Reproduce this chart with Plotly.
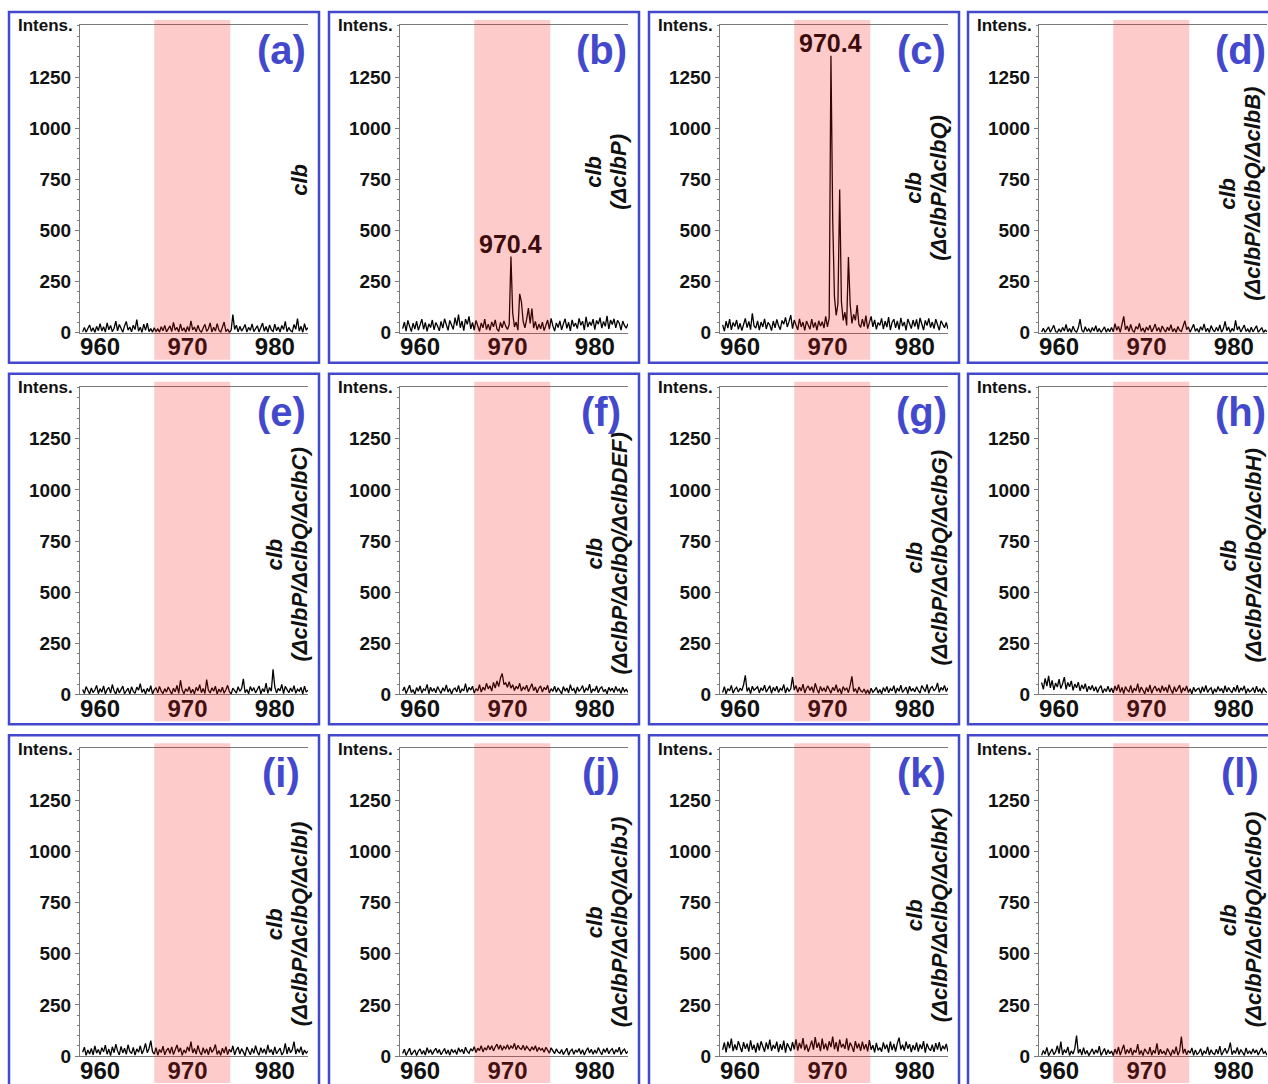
import plotly.graph_objects as go

# m/z sampling grid of the spectra (Da)
MZ_START = 958.0
MZ_STEP = 0.2

# Highlighted m/z window
WINDOW = [966.2, 974.9]

panel_tags = ["(a)", "(b)", "(c)", "(d)", "(e)", "(f)",
              "(g)", "(h)", "(i)", "(j)", "(k)", "(l)"]

strains = ["", "ΔclbP", "ΔclbP/ΔclbQ", "ΔclbP/ΔclbQ/ΔclbB",
           "ΔclbP/ΔclbQ/ΔclbC", "ΔclbP/ΔclbQ/ΔclbDEF", "ΔclbP/ΔclbQ/ΔclbG",
           "ΔclbP/ΔclbQ/ΔclbH", "ΔclbP/ΔclbQ/ΔclbI", "ΔclbP/ΔclbQ/ΔclbJ",
           "ΔclbP/ΔclbQ/ΔclbK", "ΔclbP/ΔclbQ/ΔclbO"]

y_ticks = [0, 250, 500, 750, 1000, 1250]
x_ticks = [960, 970, 980]

# Intensities, one value per grid point (958.0 ... 983.8)
intens_a = [4, 26, 2, 18, 38, 6, 24, 1, 31, 10,
            44, 8, 29, 3, 48, 14, 35, 5, 22, 57,
            9, 40, 18, 2, 33, 55, 12, 28, 4, 37,
            15, 64, 7, 27, 1, 42, 11, 47, 5, 20,
            2, 24, 6, 18, 3, 29, 9, 36, 4, 21,
            33, 5, 50, 12, 26, 3, 43, 9, 24, 2,
            30, 7, 58, 14, 28, 4, 36, 11, 2, 23,
            41, 6, 19, 48, 3, 27, 8, 44, 13, 2,
            25, 52, 5, 18, 1, 12, 88, 16, 37, 4,
            31, 8, 22, 40, 3, 26, 11, 43, 5, 19,
            34, 3, 24, 47, 7, 30, 2, 38, 14, 6,
            42, 9, 28, 3, 35, 15, 55, 5, 26, 10,
            4, 40, 17, 69, 8, 31, 2, 44, 12, 25]

intens_b = [20, 52, 8, 60, 31, 5, 47, 18, 57, 12,
            38, 66, 17, 50, 6, 43, 25, 62, 14, 49,
            33, 9, 55, 22, 68, 36, 11, 60, 42, 16,
            74, 35, 88, 24, 57, 10, 66, 41, 80, 19,
            50, 13, 60, 33, 7, 48, 24, 66, 15, 42,
            11, 53, 29, 63, 18, 6, 50, 24, 58, 31,
            16, 40, 372, 96, 28, 52, 12, 190, 150, 55,
            24, 66, 120, 45, 118, 22, 55, 14, 42, 19,
            52, 10, 40, 62, 17, 70, 33, 8, 48, 25,
            58, 14, 43, 68, 21, 51, 9, 63, 30, 47,
            20, 70, 36, 56, 13, 78, 27, 53, 35, 66,
            15, 60, 42, 74, 22, 55, 31, 82, 18, 62,
            40, 68, 24, 60, 46, 13, 57, 34, 22, 44]

intens_c = [38, 8, 56, 22, 66, 14, 50, 30, 62, 16,
            46, 10, 40, 70, 25, 55, 15, 95, 33, 22,
            58, 12, 52, 28, 68, 19, 50, 37, 10, 57,
            24, 65, 34, 15, 60, 42, 75, 28, 54, 86,
            20, 62, 38, 14, 68, 28, 52, 11, 57, 33,
            17, 66, 25, 50, 12, 58, 32, 54, 22, 80,
            28, 72, 1355, 560, 175, 85, 140, 700, 150, 60,
            100, 35, 370, 140, 45, 90, 60, 135, 40, 26,
            66, 30, 84, 20, 55, 80, 28, 63, 16, 50,
            36, 70, 18, 57, 27, 76, 13, 50, 66, 24,
            58, 15, 73, 32, 52, 11, 67, 38, 20, 62,
            30, 65, 16, 72, 48, 13, 60, 35, 70, 25,
            52, 20, 66, 33, 12, 58, 40, 24, 50, 18]

intens_d = [3, 22, 1, 12, 28, 2, 18, 36, 6, 1,
            19, 3, 26, 8, 40, 4, 21, 1, 32, 10,
            2, 24, 66, 13, 2, 29, 7, 19, 1, 25,
            8, 34, 3, 21, 1, 14, 28, 2, 20, 5,
            26, 4, 44, 12, 31, 2, 48, 80, 14, 33,
            6, 40, 11, 2, 30, 17, 46, 7, 23, 1,
            28, 12, 37, 4, 21, 42, 8, 25, 2, 33,
            16, 3, 27, 10, 39, 5, 20, 1, 30, 12,
            6, 36, 58, 15, 28, 2, 23, 41, 7, 20,
            1, 29, 12, 43, 5, 22, 1, 35, 15, 4,
            26, 8, 38, 2, 19, 55, 10, 28, 1, 21,
            7, 60, 14, 30, 3, 23, 37, 6, 18, 1,
            27, 4, 21, 34, 2, 15, 25, 1, 12, 5]

intens_e = [24, 4, 38, 15, 2, 31, 9, 21, 44, 3,
            28, 11, 41, 2, 23, 34, 6, 48, 17, 1,
            32, 7, 25, 40, 3, 19, 30, 1, 37, 14,
            5, 35, 20, 52, 9, 26, 2, 29, 13, 42,
            2, 22, 33, 8, 39, 16, 4, 28, 11, 36,
            19, 1, 30, 12, 44, 5, 69, 21, 3, 27,
            14, 37, 6, 25, 2, 34, 17, 47, 8, 29,
            4, 72, 20, 7, 32, 15, 40, 1, 26, 10,
            35, 5, 22, 44, 13, 2, 30, 18, 6, 37,
            15, 28, 76, 8, 24, 3, 38, 16, 33, 7,
            22, 41, 2, 28, 12, 55, 5, 34, 15, 122,
            36, 7, 29, 17, 49, 4, 39, 20, 8, 31,
            13, 43, 5, 25, 16, 34, 2, 40, 11, 21]

intens_f = [17, 36, 4, 28, 45, 9, 23, 1, 33, 15,
            41, 6, 26, 19, 49, 3, 35, 14, 29, 8,
            38, 20, 5, 32, 15, 46, 11, 28, 2, 24,
            31, 12, 44, 7, 26, 17, 52, 10, 34, 21,
            40, 6, 28, 17, 47, 11, 35, 20, 54, 27,
            42, 16, 58, 31, 66, 38, 80, 102, 48, 56,
            35, 62, 30, 47, 19, 39, 27, 54, 16, 35,
            25, 45, 13, 32, 52, 18, 36, 8, 30, 41,
            11, 34, 22, 44, 6, 28, 15, 40, 10, 32,
            20, 3, 38, 16, 31, 7, 47, 18, 28, 4,
            36, 14, 26, 43, 9, 30, 19, 50, 6, 27,
            16, 41, 8, 29, 37, 12, 25, 3, 34, 18,
            30, 9, 39, 17, 26, 5, 35, 14, 24, 10]

intens_g = [9, 38, 3, 28, 17, 44, 6, 25, 35, 11,
            30, 18, 47, 93, 14, 33, 4, 40, 20, 28,
            37, 7, 32, 18, 45, 11, 26, 42, 5, 34,
            16, 40, 9, 29, 20, 48, 6, 33, 14, 27,
            85, 21, 43, 10, 35, 17, 50, 7, 30, 41,
            19, 37, 9, 54, 26, 5, 39, 16, 32, 12,
            42, 23, 6, 34, 18, 47, 10, 29, 3, 38,
            20, 32, 8, 44, 88, 13, 28, 5, 36, 17,
            11, 26, 4, 22, 2, 30, 10, 20, 34, 6,
            24, 3, 33, 14, 39, 8, 28, 17, 42, 5,
            31, 15, 45, 9, 26, 35, 4, 40, 16, 29,
            12, 37, 19, 6, 43, 24, 13, 49, 5, 30,
            38, 17, 28, 56, 10, 34, 20, 44, 14, 32]

intens_h = [58, 25, 78, 40, 90, 32, 68, 22, 55, 36,
            74, 28, 52, 84, 24, 58, 37, 66, 20, 50,
            32, 60, 17, 46, 26, 52, 12, 40, 22, 44,
            16, 37, 9, 31, 42, 6, 28, 14, 40, 11,
            31, 8, 41, 18, 48, 10, 34, 4, 38, 21,
            13, 44, 6, 30, 17, 52, 9, 36, 20, 3,
            34, 12, 46, 5, 28, 40, 15, 31, 8, 42,
            16, 35, 9, 47, 22, 4, 37, 13, 29, 45,
            6, 32, 17, 41, 9, 27, 2, 35, 14, 25,
            30, 5, 37, 13, 44, 10, 24, 32, 2, 27,
            11, 39, 16, 29, 6, 42, 12, 33, 18, 8,
            35, 14, 45, 9, 31, 20, 41, 4, 28, 13,
            19, 33, 7, 40, 12, 27, 5, 32, 16, 9]

intens_i = [18, 43, 3, 29, 10, 37, 5, 50, 14, 32,
            7, 41, 20, 53, 9, 34, 2, 45, 16, 58,
            25, 5, 47, 15, 38, 8, 55, 22, 12, 42,
            4, 35, 18, 50, 10, 31, 62, 16, 37, 75,
            21, 9, 41, 4, 32, 17, 48, 6, 28, 38,
            12, 45, 7, 34, 54, 19, 40, 3, 30, 14,
            45, 23, 70, 15, 37, 9, 52, 21, 5, 41,
            13, 35, 6, 44, 18, 31, 56, 8, 27, 3,
            38, 14, 46, 7, 33, 19, 50, 5, 30, 43,
            9, 36, 16, 2, 44, 22, 6, 37, 13, 51,
            20, 4, 41, 15, 35, 8, 54, 17, 32, 6,
            45, 11, 28, 39, 5, 19, 62, 10, 43, 16,
            31, 70, 9, 36, 17, 46, 5, 29, 14, 24]

intens_j = [12, 33, 3, 25, 38, 6, 20, 30, 2, 24,
            35, 9, 27, 5, 41, 15, 31, 7, 25, 38,
            14, 32, 6, 24, 37, 10, 29, 4, 34, 18,
            28, 8, 40, 19, 33, 11, 43, 22, 13, 36,
            24, 45, 17, 38, 27, 50, 20, 41, 29, 52,
            31, 50, 25, 44, 58, 33, 54, 28, 47, 36,
            55, 32, 49, 37, 62, 30, 52, 38, 33, 53,
            28, 47, 35, 24, 45, 30, 50, 22, 42, 29,
            36, 18, 43, 25, 14, 40, 22, 12, 35, 19,
            13, 32, 7, 27, 38, 4, 24, 33, 9, 30,
            18, 37, 10, 31, 5, 26, 40, 15, 33, 8,
            29, 13, 41, 22, 6, 35, 17, 39, 11, 28,
            36, 9, 31, 19, 43, 7, 26, 34, 12, 23]

intens_k = [30, 66, 18, 70, 38, 85, 24, 57, 29, 73,
            45, 20, 68, 35, 60, 22, 76, 31, 55, 17,
            64, 27, 72, 40, 21, 67, 33, 80, 25, 54,
            36, 70, 19, 58, 30, 75, 16, 62, 38, 24,
            68, 32, 82, 26, 64, 37, 88, 29, 57, 21,
            46, 75, 31, 92, 40, 66, 24, 85, 34, 61,
            27, 72, 44, 95, 33, 68, 22, 80, 42, 59,
            35, 86, 28, 65, 47, 20, 73, 37, 61, 25,
            70, 33, 58, 23, 78, 31, 53, 18, 64, 28,
            41, 21, 67, 34, 56, 16, 71, 29, 59, 22,
            62, 90, 32, 55, 25, 70, 36, 58, 19, 53,
            29, 66, 22, 57, 34, 73, 17, 60, 37, 26,
            55, 20, 63, 31, 68, 24, 50, 33, 59, 21]

intens_l = [4, 27, 9, 42, 2, 22, 34, 7, 20, 50,
            12, 70, 5, 31, 15, 45, 3, 25, 10, 37,
            100, 14, 33, 4, 41, 9, 27, 2, 23, 35,
            8, 30, 14, 48, 3, 21, 37, 6, 30, 11,
            24, 2, 34, 10, 44, 5, 26, 55, 9, 32,
            13, 40, 4, 29, 16, 58, 7, 27, 2, 35,
            20, 9, 43, 3, 28, 13, 62, 6, 33, 11,
            25, 5, 37, 15, 2, 31, 10, 46, 4, 24,
            95, 12, 35, 6, 27, 14, 40, 3, 30, 8,
            16, 36, 2, 26, 11, 45, 5, 31, 13, 7,
            33, 10, 48, 4, 23, 38, 12, 30, 65, 6,
            27, 13, 42, 7, 32, 17, 3, 40, 11, 26,
            9, 35, 15, 30, 5, 24, 39, 12, 22, 4]

spectra = [intens_a, intens_b, intens_c, intens_d, intens_e, intens_f,
           intens_g, intens_h, intens_i, intens_j, intens_k, intens_l]

# Labelled peak (m/z) per panel index
peak_labels = {1: 970.4, 2: 970.4}

# ---- page geometry (pixels) ----
W, H = 1268, 1084
PAGE_H = 1067          # drawable height used for paper-fraction placement
COL_LEFT = [9, 329, 649, 968]
ROW_TOP = [12, 374, 736]
BOX_W, BOX_H = 310, 351
# horizontal nudge of the strain labels per column (last column sits at the edge)
LABEL_NUDGE = [0, 0, 0, -5]
# vertical centre of the rotated strain label, measured from the panel top
LABEL_MID = [168, 160, 176, 182, 181, 180, 184, 182, 189, 187, 180, 185]

FONT = "Liberation Sans, Arial, sans-serif"
BLUE = "#4349cc"
AXIS_GREY = "#7a7a7a"


def px_x(p):
    return p / W


def px_y(p):
    return 1 - p / PAGE_H


fig = go.Figure()
shapes = []
annotations = []

for k, vals in enumerate(spectra):
    r, c = divmod(k, 4)
    L, T = COL_LEFT[c], ROW_TOP[r]
    n = k + 1
    xa = "x" if n == 1 else f"x{n}"
    ya = "y" if n == 1 else f"y{n}"
    mz = [round(MZ_START + MZ_STEP * i, 1) for i in range(len(vals))]

    fig.add_trace(go.Scatter(
        x=mz, y=vals, mode="lines", xaxis=xa, yaxis=ya,
        line=dict(color="#000000", width=1.3), showlegend=False,
        hoverinfo="x+y"))

    xkey = "xaxis" if n == 1 else f"xaxis{n}"
    ykey = "yaxis" if n == 1 else f"yaxis{n}"
    fig.update_layout({
        xkey: dict(
            domain=[px_x(L + 71), px_x(L + 299)], anchor=ya,
            range=[957.7, 983.8], tickmode="array", tickvals=x_ticks,
            ticks="", ticklen=0, ticklabelstandoff=-7,
            showgrid=False, zeroline=False,
            showline=True, linecolor=AXIS_GREY, linewidth=1, mirror=True,
            tickfont=dict(family=FONT, size=24, color="#111111", weight="bold"),
        ),
        ykey: dict(
            domain=[px_y(T + 321), px_y(T + 13)], anchor=xa,
            range=[0, 1505], tickmode="array", tickvals=y_ticks,
            ticks="outside", ticklen=4, tickcolor=AXIS_GREY, tickwidth=1,
            minor=dict(dtick=50, ticks="outside", ticklen=2,
                       tickcolor=AXIS_GREY, tickwidth=1),
            showgrid=False, zeroline=False,
            showline=True, linecolor=AXIS_GREY, linewidth=1,
            tickfont=dict(family=FONT, size=19, color="#111111", weight="bold"),
        ),
    })

    # panel frame
    shapes.append(dict(
        type="rect", xref="paper", yref="paper",
        x0=px_x(L), x1=px_x(L + BOX_W), y0=px_y(T + BOX_H), y1=px_y(T),
        line=dict(color=BLUE, width=2.5), fillcolor="rgba(0,0,0,0)",
        layer="above"))

    # highlighted m/z window
    shapes.append(dict(
        type="rect", xref=xa, yref="paper",
        x0=WINDOW[0], x1=WINDOW[1], y0=px_y(T + 348), y1=px_y(T + 8),
        line=dict(width=0), fillcolor="rgb(250,20,20)", opacity=0.22,
        layer="above"))

    annotations.append(dict(
        text="<b>Intens.</b>", xref="paper", yref="paper",
        x=px_x(L + 7), y=px_y(T + 14), xanchor="left", yanchor="middle",
        showarrow=False, font=dict(family=FONT, size=17, color="#111111")))

    annotations.append(dict(
        text=f"<b>{panel_tags[k]}</b>", xref="paper", yref="paper",
        x=px_x(L + 272), y=px_y(T + 38), xanchor="center", yanchor="middle",
        showarrow=False, font=dict(family=FONT, size=40, color=BLUE)))

    # rotated strain label: "clb" over the deletion list
    mid = px_y(T + LABEL_MID[k])
    lx = L + LABEL_NUDGE[c]
    label_font = dict(family=FONT, size=22, color="#111111")
    if strains[k]:
        annotations.append(dict(
            text="<b><i>clb</i></b>", xref="paper", yref="paper",
            textangle=-90, x=px_x(lx + 265), y=mid,
            xanchor="center", yanchor="middle", showarrow=False,
            font=label_font))
        annotations.append(dict(
            text=f"<b><i>({strains[k]})</i></b>", xref="paper", yref="paper",
            textangle=-90, x=px_x(lx + 290), y=mid,
            xanchor="center", yanchor="middle", showarrow=False,
            font=label_font))
    else:
        annotations.append(dict(
            text="<b><i>clb</i></b>", xref="paper", yref="paper",
            textangle=-90, x=px_x(lx + 291), y=mid,
            xanchor="center", yanchor="middle", showarrow=False,
            font=label_font))

    if k in peak_labels:
        pk = peak_labels[k]
        idx = mz.index(pk)
        annotations.append(dict(
            text=f"<b>{pk:.1f}</b>", xref=xa, yref=ya, x=pk, y=vals[idx],
            xanchor="center", yanchor="bottom", yshift=-3, showarrow=False,
            font=dict(family=FONT, size=25, color="#3e0b0b")))

fig.update_layout(
    width=W, height=H, margin=dict(l=0, r=0, t=0, b=0),
    paper_bgcolor="white", plot_bgcolor="white",
    shapes=shapes, annotations=annotations, showlegend=False,
)

fig.write_html("out.html")
